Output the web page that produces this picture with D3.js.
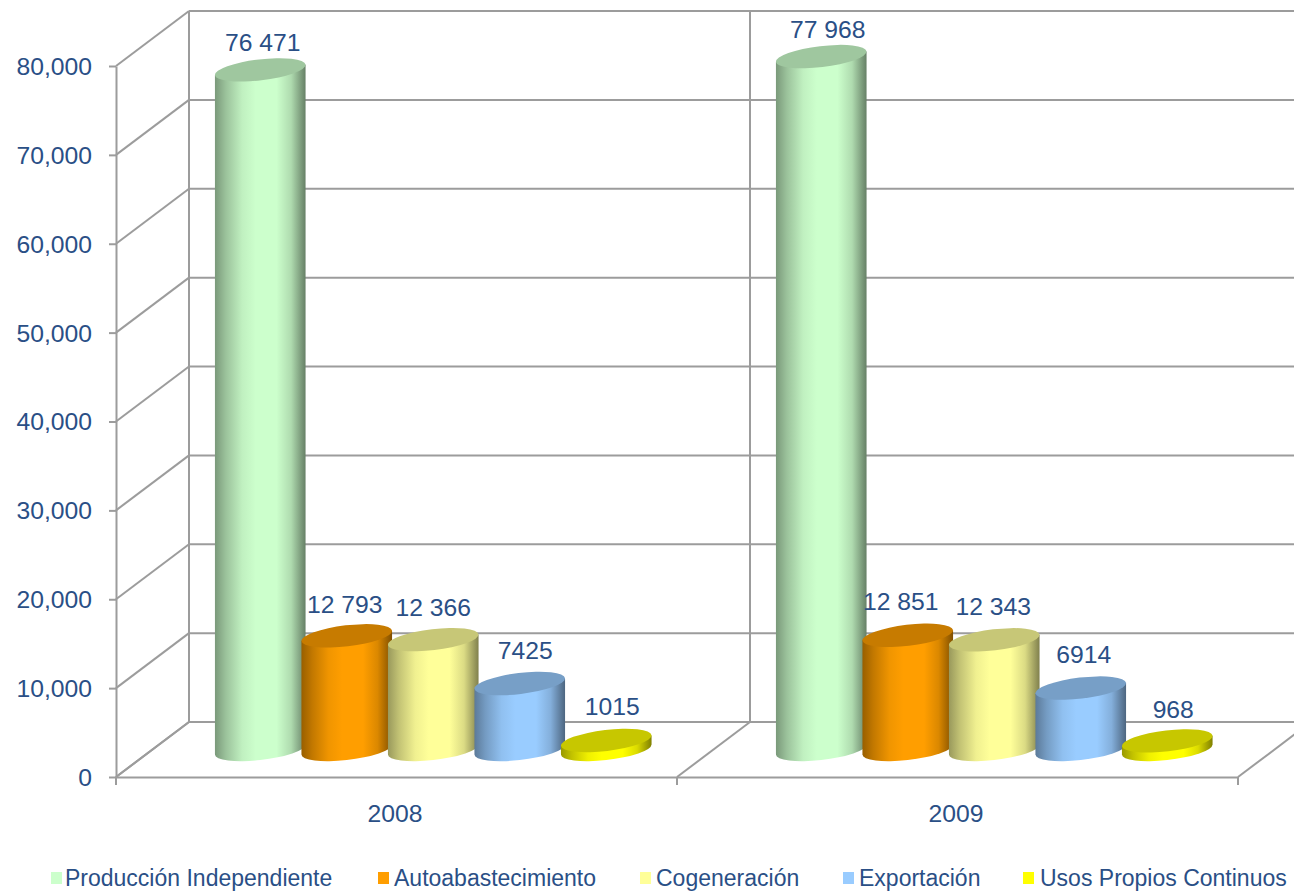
<!DOCTYPE html>
<html lang="es">
<head>
    <meta charset="UTF-8">
    <title>Capacidad por modalidad</title>
    <script src="https://cdn.jsdelivr.net/npm/d3@7/dist/d3.min.js"></script>
    <style>
        html, body { margin: 0; padding: 0; background: #fff; }
        svg { display: block; }
        text { font-family: "Liberation Sans", Arial, sans-serif; font-size: 24.7px; fill: #2a4f86; }
    </style>
</head>
<body>
    <script>
        // Data
        var years = ["2008", "2009"];
        var seriesNames = ["Producción Independiente", "Autoabastecimiento", "Cogeneración", "Exportación", "Usos Propios Continuos"];
        var seriesColors = ["#ccffcc", "#ff9e00", "#ffff99", "#99ccff", "#ffff00"];
        var values2008 = [76471, 12793, 12366, 7425, 1015];
        var values2009 = [77968, 12851, 12343, 6914, 968];
        var labels2008 = ["76 471", "12 793", "12 366", "7425", "1015"];
        var labels2009 = ["77 968", "12 851", "12 343", "6914", "968"];
        var yTicks = [0, 10000, 20000, 30000, 40000, 50000, 60000, 70000, 80000];

        var width = 1294, height = 892;

        // Depth of the fake 3D box, and where the bars sit inside it
        var depthX = 73, depthY = -55;
        var barDepthX = 36.5, barDepthY = -27.5;
        var gridColor = "#9c9c9c";

        var x0 = d3.scaleBand().domain(years).range([116, 1238]);
        var x1 = d3.scaleBand().domain(seriesNames)
            .range([x0.bandwidth() / 2 - 216, x0.bandwidth() / 2 + 216.5]);
        var y = d3.scaleLinear().domain([0, 80000]).range([777, 66]);

        var svg = d3.select("body").append("svg")
            .attr("width", width)
            .attr("height", height);

        var defs = svg.append("defs");

        // One horizontal gradient per series, dark at both edges
        seriesColors.forEach(function (c, i) {
            var grad = defs.append("linearGradient").attr("id", "body" + i);
            [[0, 0.6], [0.12, 0.76], [0.3, 0.94], [0.45, 1], [0.68, 1], [0.84, 0.86], [1, 0.5]].forEach(function (s) {
                var col = d3.rgb(c);
                grad.append("stop")
                    .attr("offset", s[0])
                    .attr("stop-color", d3.rgb(col.r * s[1], col.g * s[1], col.b * s[1]));
            });
        });

        var grid = svg.append("g")
            .attr("fill", "none")
            .attr("stroke", gridColor)
            .attr("stroke-width", 2);

        // Back wall lines and the diagonals coming off the left axis
        yTicks.forEach(function (t) {
            grid.append("line")
                .attr("x1", 116 + depthX).attr("x2", width)
                .attr("y1", y(t) + depthY).attr("y2", y(t) + depthY);
            grid.append("line")
                .attr("x1", 116).attr("x2", 116 + depthX)
                .attr("y1", y(t)).attr("y2", y(t) + depthY);
        });

        // Back wall verticals and floor diagonals at every category edge
        [116, x0("2009"), 1238].forEach(function (edge) {
            grid.append("line")
                .attr("x1", edge + depthX).attr("x2", edge + depthX)
                .attr("y1", y(0) + depthY).attr("y2", y(80000) + depthY);
            grid.append("line")
                .attr("x1", edge).attr("x2", edge + depthX)
                .attr("y1", y(0)).attr("y2", y(0) + depthY);
            grid.append("line")
                .attr("x1", edge).attr("x2", edge)
                .attr("y1", y(0)).attr("y2", y(0) + 8);
        });

        var yAxis = d3.axisLeft(y)
            .tickValues(yTicks)
            .tickFormat(d3.format(","))
            .tickSize(7)
            .tickSizeOuter(0)
            .tickPadding(17);

        var yAxisG = svg.append("g")
            .attr("transform", "translate(116,0)")
            .call(yAxis);
        yAxisG.selectAll("path, line").attr("stroke", gridColor).attr("stroke-width", 2);
        yAxisG.selectAll("text").attr("dy", "0.34em");
        yAxisG.attr("font-size", null).attr("font-family", null);

        var xAxis = d3.axisBottom(x0).tickSize(0).tickSizeOuter(0).tickPadding(25);

        var xAxisG = svg.append("g")
            .attr("transform", "translate(0,777)")
            .call(xAxis);
        xAxisG.selectAll("path").attr("stroke", gridColor).attr("stroke-width", 2);
        xAxisG.selectAll("text").attr("dx", "-1.5").attr("dy", "0.8em");
        xAxisG.attr("font-size", null).attr("font-family", null);

        // Cylinder shape: tilted ellipse, body edges meet it at its left and right extremes
        var rx = 45.6, ry = 10.5, tilt = -6.7;
        var tiltRad = tilt * Math.PI / 180;
        var halfW = Math.sqrt(rx * rx * Math.cos(tiltRad) * Math.cos(tiltRad) + ry * ry * Math.sin(tiltRad) * Math.sin(tiltRad));
        var tangentY = (rx * rx - ry * ry) * Math.abs(Math.sin(tiltRad) * Math.cos(tiltRad)) / halfW;

        var rows = [];
        years.forEach(function (yr, j) {
            var vals = j === 0 ? values2008 : values2009;
            var labs = j === 0 ? labels2008 : labels2009;
            seriesNames.forEach(function (name, i) {
                rows.push({
                    year: yr, name: name, i: i, value: vals[i], label: labs[i],
                    cx: x0(yr) + x1(name) + x1.bandwidth() / 2 + barDepthX,
                    top: y(vals[i]) + barDepthY,
                    base: y(0) + barDepthY
                });
            });
        });

        var bars = svg.selectAll(".bar")
            .data(rows)
            .enter().append("g")
            .attr("class", "bar");

        bars.append("path")
            .attr("fill", d => "url(#body" + d.i + ")")
            .attr("d", function (d) {
                return "M" + (d.cx - halfW) + "," + (d.top + tangentY) +
                    "L" + (d.cx - halfW) + "," + (d.base + tangentY) +
                    "A" + rx + "," + ry + " " + tilt + " 0 0 " + (d.cx + halfW) + "," + (d.base - tangentY) +
                    "L" + (d.cx + halfW) + "," + (d.top - tangentY) + "Z";
            });

        bars.append("ellipse")
            .attr("rx", rx)
            .attr("ry", ry)
            .attr("transform", d => "translate(" + d.cx + "," + d.top + ") rotate(" + tilt + ")")
            .attr("fill", function (d) {
                var col = d3.rgb(seriesColors[d.i]);
                return d3.rgb(col.r * 0.78, col.g * 0.78, col.b * 0.78);
            });

        // Labels were hand placed in the original, so each gets its own nudge
        var labelNudgeX = [2.5, -2, 0, 5.5, 6, 6.5, -7, -1, 3, 6];
        var labelNudgeY = [-19, -23, -24, -25, -25, -19, -25, -25, -25, -23];

        svg.selectAll(".value-label")
            .data(rows)
            .enter().append("text")
            .attr("class", "value-label")
            .attr("text-anchor", "middle")
            .attr("x", (d, i) => d.cx + labelNudgeX[i])
            .attr("y", (d, i) => d.top + labelNudgeY[i])
            .text(d => d.label);

        // Legend
        var legendSwatchX = [51, 378, 640, 843, 1023];
        var legendTextX = [14, 16, 16, 16, 17];
        var legend = svg.selectAll(".legend")
            .data(seriesNames)
            .enter().append("g")
            .attr("class", "legend")
            .attr("transform", (d, i) => "translate(" + legendSwatchX[i] + ",872)");

        legend.append("rect")
            .attr("width", 11)
            .attr("height", 12)
            .attr("fill", (d, i) => seriesColors[i]);

        legend.append("text")
            .attr("x", (d, i) => legendTextX[i])
            .attr("y", 14)
            .style("font-size", "23px")
            .text(d => d);
    </script>
</body>
</html>
